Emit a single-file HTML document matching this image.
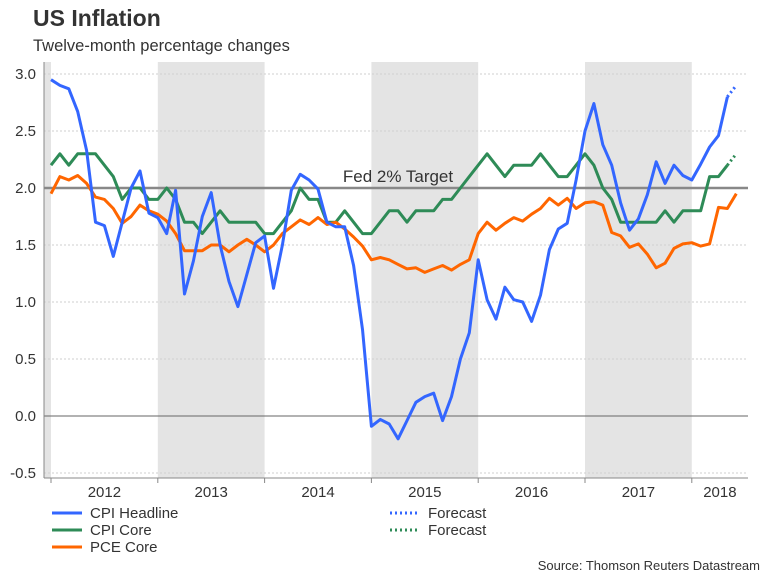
<!DOCTYPE html>
<html><head><meta charset="utf-8"><style>
body{margin:0;background:#fff;font-family:"Liberation Sans",sans-serif;}
svg text{font-family:"Liberation Sans",sans-serif;}
</style></head><body>
<svg id="c" width="768" height="576" xmlns="http://www.w3.org/2000/svg">
<text x="33" y="26" font-size="23" font-weight="bold" fill="#333">US Inflation</text>
<text x="33" y="51" font-size="16.5" fill="#333">Twelve-month percentage changes</text>
<g id="bands"></g><g id="grid"></g><g id="series"></g><g id="axes"></g>
<text x="760" y="570" font-size="13" fill="#333" text-anchor="end">Source: Thomson Reuters Datastream</text>
</svg>
<script>
const years=["2012","2013","2014","2015","2016","2017","2018"];
const yTicks=[3.0,2.5,2.0,1.5,1.0,0.5,0.0,-0.5];
const cpiHeadline=[2.95,2.9,2.87,2.67,2.33,1.7,1.67,1.4,1.7,2.0,2.15,1.78,1.74,1.6,1.98,1.07,1.36,1.75,1.96,1.5,1.18,0.96,1.24,1.52,1.58,1.12,1.5,1.98,2.12,2.07,1.99,1.7,1.66,1.66,1.32,0.76,-0.09,-0.03,-0.07,-0.2,-0.04,0.12,0.17,0.2,-0.04,0.17,0.5,0.73,1.37,1.02,0.85,1.13,1.02,1.0,0.83,1.06,1.46,1.64,1.69,2.07,2.5,2.74,2.38,2.2,1.87,1.63,1.73,1.94,2.23,2.04,2.2,2.11,2.07,2.21,2.36,2.46,2.8];
const cpiForecast=[2.8,2.9];
const cpiCore=[2.2,2.3,2.2,2.3,2.3,2.3,2.2,2.1,1.9,2.0,2.0,1.9,1.9,2.0,1.9,1.7,1.7,1.6,1.7,1.8,1.7,1.7,1.7,1.7,1.6,1.6,1.7,1.8,2.0,1.9,1.9,1.7,1.7,1.8,1.7,1.6,1.6,1.7,1.8,1.8,1.7,1.8,1.8,1.8,1.9,1.9,2.0,2.1,2.2,2.3,2.2,2.1,2.2,2.2,2.2,2.3,2.2,2.1,2.1,2.2,2.3,2.2,2.0,1.9,1.7,1.7,1.7,1.7,1.7,1.8,1.7,1.8,1.8,1.8,2.1,2.1,2.2];
const coreForecast=[2.2,2.3];
const pceCore=[1.95,2.1,2.07,2.11,2.04,1.92,1.9,1.82,1.69,1.75,1.85,1.8,1.77,1.71,1.6,1.45,1.45,1.45,1.5,1.5,1.44,1.5,1.55,1.5,1.44,1.5,1.6,1.66,1.72,1.68,1.74,1.68,1.7,1.64,1.57,1.49,1.37,1.39,1.37,1.33,1.29,1.3,1.26,1.29,1.32,1.28,1.33,1.37,1.6,1.7,1.63,1.69,1.74,1.71,1.77,1.82,1.91,1.85,1.91,1.82,1.87,1.88,1.85,1.61,1.58,1.48,1.51,1.42,1.3,1.34,1.47,1.51,1.52,1.49,1.51,1.83,1.82,1.95];
const NS="http://www.w3.org/2000/svg";
const X=i=>51+i*8.9, Y=v=>416-v*114;
function mk(p,t,a){const e=document.createElementNS(NS,t);for(const k in a)e.setAttribute(k,a[k]);document.getElementById(p).appendChild(e);return e;}
let b=mk('bands','rect',{x:44,y:62,width:7,height:416,fill:'#e4e4e4'});


[1,3,5].forEach(k=>{const r=mk('bands','rect',{x:X(k*12),y:62,width:12*8.9,height:416,fill:'#e4e4e4'});

});
yTicks.forEach(v=>{
 if(v!==0&&v!==2){const g=mk('grid','line',{x1:44,x2:748,y1:Y(v),y2:Y(v),stroke:'#cfcfcf','stroke-dasharray':'2,2','stroke-width':1});
 
 }
 const t=mk('axes','text',{x:36,y:Y(v)+5,'font-size':15,fill:'#333','text-anchor':'end'});t.textContent=v.toFixed(1);
 
 
});
let z=mk('grid','line',{x1:44,x2:748,y1:Y(0),y2:Y(0),stroke:'#666','stroke-width':1});


let f=mk('grid','line',{x1:44,x2:748,y1:Y(2),y2:Y(2),stroke:'#888','stroke-width':2.5});


let ft=mk('grid','text',{x:398,y:Y(2)-6,'font-size':17,fill:'#333','text-anchor':'middle'});ft.textContent='Fed 2% Target';


let ya=mk('axes','line',{x1:44,x2:44,y1:62,y2:478,stroke:'#888','stroke-width':1});


let xa=mk('axes','line',{x1:44,x2:748,y1:478,y2:478,stroke:'#888','stroke-width':1});


years.forEach((yr,k)=>{
 const tk=mk('axes','line',{x1:X(k*12),x2:X(k*12),y1:478,y2:483,stroke:'#888'});
 
 
 const cx=k<6?X(k*12+6):(X(72)+748)/2;
 const t=mk('axes','text',{x:cx,y:497,'font-size':15,fill:'#333','text-anchor':'middle'});t.textContent=yr;
 
 
});
function line(data,off,col,name,dash){
 const p=data.map((v,i)=>X(i+off).toFixed(1)+','+Y(v).toFixed(1)).join(' ');
 const a={points:p,fill:'none',stroke:col,'stroke-width':3,'stroke-linejoin':'round'};
 if(dash)a['stroke-dasharray']='2,3';
 const e=mk('series','polyline',a);
 
 
}
line(cpiCore,0,'#2e8b57','cpi-core-line');
line(coreForecast,cpiCore.length-1,'#2e8b57','cpi-core-forecast',1);
line(pceCore,0,'#ff6600','pce-core-line');
line(cpiHeadline,0,'#3366ff','cpi-headline-line');
line(cpiForecast,cpiHeadline.length-1,'#3366ff','cpi-headline-forecast',1);
const leg=[[62,513,'#3366ff','CPI Headline',0],[62,530,'#2e8b57','CPI Core',0],[62,547,'#ff6600','PCE Core',0],[400,513,'#3366ff','Forecast',1],[400,530,'#2e8b57','Forecast',1]];
leg.forEach(l=>{
 const a={x1:l[0]-10,x2:l[0]+20,y1:l[1],y2:l[1],stroke:l[2],'stroke-width':3};
 if(l[4])a['stroke-dasharray']='2,3';
 const s=mk('axes','line',a);
 
 
 const t=mk('axes','text',{x:l[0]+28,y:l[1]+5,'font-size':15,fill:'#333'});t.textContent=l[3];
 
 
});
</script>
</body></html>
